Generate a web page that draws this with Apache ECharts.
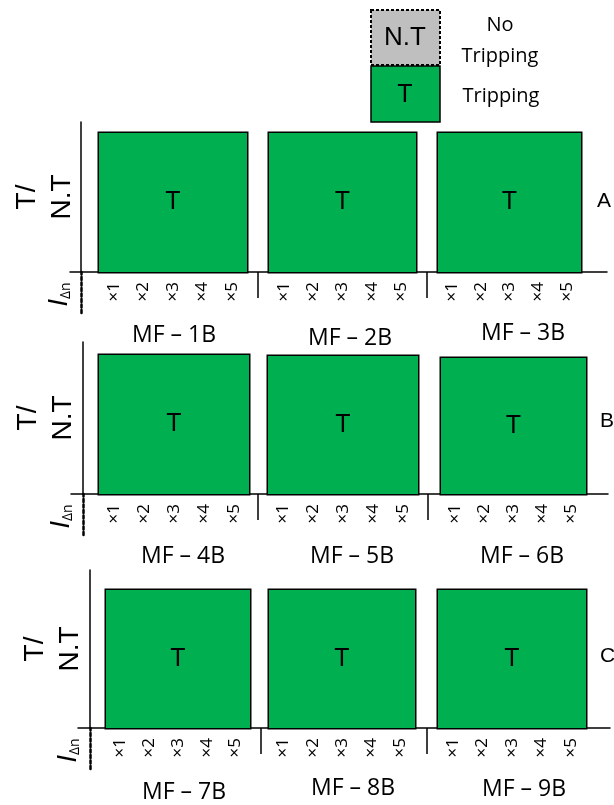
<!DOCTYPE html>
<html>
<head>
<meta charset="utf-8">
<title>MF tripping test</title>
<script src="https://cdn.jsdelivr.net/npm/echarts@6/dist/echarts.min.js"></script>
<style>
  html, body { margin: 0; padding: 0; background: #fff; }
  #chart-container { width: 614px; height: 805px; }
</style>
</head>
<body>
<div id="chart-container"></div>
<script>
// data
const multiples = ["×1", "×2", "×3", "×4", "×5"];
const panelNames = [
  "MF – 1B", "MF – 2B", "MF – 3B",
  "MF – 4B", "MF – 5B", "MF – 6B",
  "MF – 7B", "MF – 8B", "MF – 9B",
];
const rowNames = ["A", "B", "C"];
// trip result for each multiple of I_Δn, per panel
const panelStatus = [
  ["T", "T", "T", "T", "T"],
  ["T", "T", "T", "T", "T"],
  ["T", "T", "T", "T", "T"],
  ["T", "T", "T", "T", "T"],
  ["T", "T", "T", "T", "T"],
  ["T", "T", "T", "T", "T"],
  ["T", "T", "T", "T", "T"],
  ["T", "T", "T", "T", "T"],
  ["T", "T", "T", "T", "T"],
];
const legendKeys = ["N.T", "T"];
const legendNames = ["No\nTripping", "Tripping"];
const statusValue = { "T": 1, "N.T": 1 };

// styles
const statusColor = { "T": "#00b050", "N.T": "#bfbfbf" };
const ARIAL = '"Liberation Sans", Arial, sans-serif';
const SANS = '"Open Sans", "Noto Sans", sans-serif';

// layout of the three rows (pixels)
const rowLayout = [
  {
    axisX: 81, axisTop: 122, axisY: 272, lineL: 70, lineR: 607,
    seps: [258, 427],
    boxes: [[99, 247, 133], [269, 416, 133], [438, 581, 133]],
    mf: [[174, 335], [350, 338], [523, 333]],
    tag: [597, 191],
  },
  {
    axisX: 83, axisTop: 342, axisY: 494, lineL: 71, lineR: 608,
    seps: [258, 428],
    boxes: [[99, 249, 355], [268, 418, 356], [441, 586, 358]],
    mf: [[183, 556], [352, 556], [522, 556]],
    tag: [600, 411],
  },
  {
    axisX: 90, axisTop: 570, axisY: 728, lineL: 78, lineR: 610,
    seps: [261, 427],
    boxes: [[106, 250, 590], [269, 415, 590], [438, 586, 590]],
    mf: [[184, 792], [353, 788], [524, 789]],
    tag: [600, 646],
  },
];

const grids = [];
const xAxes = [];
const yAxes = [];
const series = [];
const titles = [];

const blackLine = { color: "#000", width: 1.5 };

rowLayout.forEach((row, r) => {
  // frame: T/N.T axis of the row
  let gi = grids.length;
  grids.push({
    left: row.lineL,
    top: row.axisTop,
    width: row.lineR - row.lineL,
    height: row.axisY - row.axisTop,
    outerBoundsMode: "none",
  });
  xAxes.push({
    gridIndex: gi,
    type: "value",
    min: row.lineL - row.axisX,
    max: row.lineR - row.axisX,
    axisLine: { show: true, onZero: true, lineStyle: blackLine },
    axisTick: {
      show: true,
      customValues: row.seps.map((s) => s - row.axisX),
      length: 26,
      lineStyle: blackLine,
    },
    axisLabel: { show: false },
    splitLine: { show: false },
  });
  yAxes.push({
    gridIndex: gi,
    type: "value",
    min: 0,
    max: 1,
    axisLine: { show: true, onZero: true, lineStyle: blackLine },
    axisTick: { show: false },
    axisLabel: { show: false },
    splitLine: { show: false },
    name: "T/\nN.T",
    nameLocation: "middle",
    nameRotate: 90,
    nameGap: -10,
    nameMoveOverlap: false,
    nameTextStyle: { fontFamily: ARIAL, fontSize: 28, lineHeight: 35, color: "#000" },
  });

  // dotted stub below the axis, I_Δn
  gi = grids.length;
  grids.push({ left: row.axisX, top: row.axisY, width: 30, height: 41, outerBoundsMode: "none" });
  xAxes.push({ gridIndex: gi, type: "value", min: 0, max: 1, show: false });
  yAxes.push({
    gridIndex: gi,
    type: "value",
    min: 0,
    max: 1,
    axisLine: {
      show: true,
      onZero: true,
      lineStyle: { color: "#000", width: 2.5, type: [3, 2.5] },
    },
    axisTick: { show: false },
    axisLabel: { show: false },
    splitLine: { show: false },
    name: "{i|I}{s|Δn}",
    nameLocation: "middle",
    nameRotate: 90,
    nameGap: 8,
    nameMoveOverlap: false,
    nameTextStyle: {
      padding: [0, 4, 0, 0],
      rich: {
        i: { fontFamily: ARIAL, fontStyle: "italic", fontSize: 27, color: "#000" },
        s: { fontFamily: SANS, fontSize: 14, color: "#000", verticalAlign: "bottom", padding: [9, 0, 0, 0] },
      },
    },
  });

  // panels
  row.boxes.forEach((b, c) => {
    const p = r * 3 + c;
    const status = panelStatus[p];
    const band = (b[1] - b[0]) / multiples.length;
    const shift = row.mf[c][0] - (b[0] + b[1]) / 2;
    gi = grids.length;
    grids.push({
      left: b[0],
      top: b[2],
      width: b[1] - b[0],
      height: row.axisY - b[2],
      show: true,
      borderColor: "#000",
      borderWidth: 3,
      backgroundColor: "transparent",
      outerBoundsMode: "none",
    });
    xAxes.push({
      gridIndex: gi,
      type: "category",
      data: multiples,
      boundaryGap: true,
      axisLine: { show: false },
      axisTick: { show: false },
      axisLabel: { interval: 0, rotate: 90, margin: 10, fontFamily: SANS, fontSize: 17, color: "#000" },
      splitLine: { show: false },
      name: panelNames[p],
      nameLocation: "middle",
      nameGap: row.mf[c][1] - 14 - row.axisY,
      nameMoveOverlap: false,
      nameTextStyle: {
        fontFamily: SANS,
        fontSize: 23,
        lineHeight: 28,
        color: "#000",
        padding: shift >= 0 ? [0, 0, 0, 2 * shift] : [0, -2 * shift, 0, 0],
      },
    });
    yAxes.push({ gridIndex: gi, type: "value", min: 0, max: 1, show: false });
    series.push({
      type: "bar",
      name: panelNames[p],
      xAxisIndex: gi,
      yAxisIndex: gi,
      barWidth: band + 2,
      clip: true,
      silent: true,
      data: status.map((s) => ({
        value: statusValue[s],
        itemStyle: { color: statusColor[s] },
      })),
      label: {
        show: true,
        position: "inside",
        formatter: (q) => (q.dataIndex === 2 ? status[2] : ""),
        fontFamily: ARIAL,
        fontSize: 25,
        color: "#000",
      },
    });
  });

  titles.push({
    text: rowNames[r],
    left: row.tag[0],
    top: row.tag[1],
    padding: 0,
    textStyle: { fontFamily: ARIAL, fontSize: 21, fontWeight: "normal", color: "#000" },
  });
});

// legend boxes
const graphic = [
  {
    type: "rect",
    shape: { x: 371, y: 10, width: 69, height: 55 },
    style: { fill: statusColor["N.T"], stroke: "#000", lineWidth: 2, lineDash: [3, 2] },
  },
  {
    type: "text",
    x: 405, y: 38,
    style: { text: legendKeys[0], font: '26px "Liberation Sans"', align: "center", verticalAlign: "middle", fill: "#000" },
  },
  {
    type: "rect",
    shape: { x: 371, y: 66, width: 69, height: 56 },
    style: { fill: statusColor["T"], stroke: "#000", lineWidth: 1.5 },
  },
  {
    type: "text",
    x: 405, y: 95,
    style: { text: legendKeys[1], font: '25px "Liberation Sans"', align: "center", verticalAlign: "middle", fill: "#000" },
  },
  {
    type: "text",
    x: 500, y: 41,
    style: { text: legendNames[0], font: '20px "Open Sans"', lineHeight: 31, align: "center", verticalAlign: "middle", fill: "#000" },
  },
  {
    type: "text",
    x: 501, y: 96,
    style: { text: legendNames[1], font: '20px "Open Sans"', align: "center", verticalAlign: "middle", fill: "#000" },
  },
];

const chart = echarts.init(document.getElementById("chart-container"), null, { renderer: "canvas" });
chart.setOption({
  animation: false,
  backgroundColor: "#fff",
  title: titles,
  grid: grids,
  xAxis: xAxes,
  yAxis: yAxes,
  series,
  graphic,
});
window.addEventListener("resize", () => chart.resize());
</script>
</body>
</html>
